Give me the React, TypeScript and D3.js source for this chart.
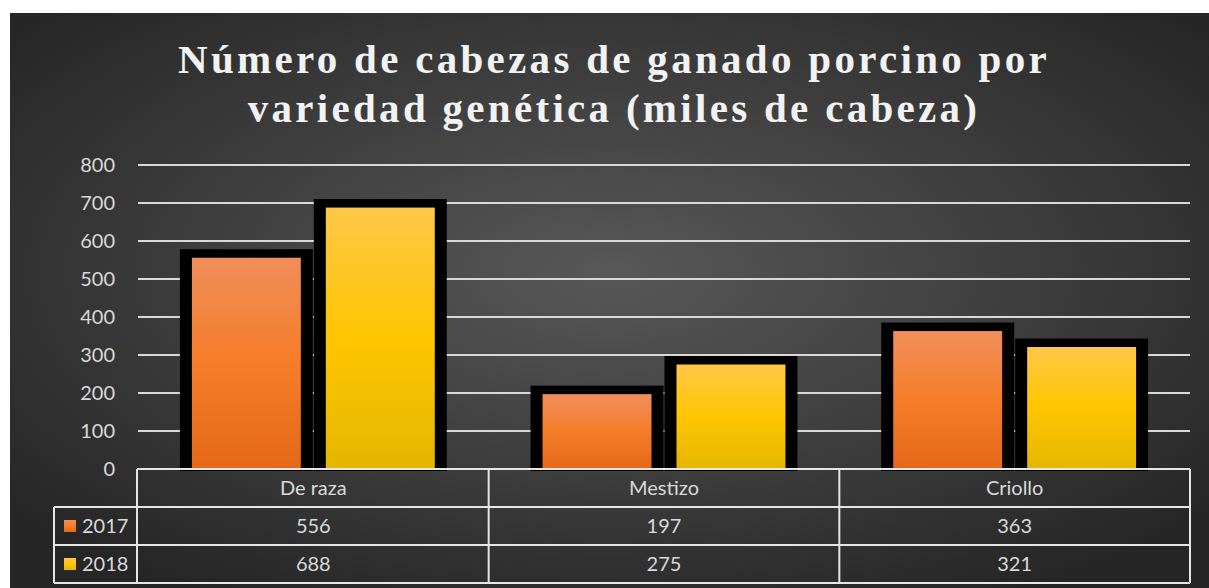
import React from "react";
import * as d3 from "d3";

const categories = ["De raza", "Mestizo", "Criollo"];
const seriesNames = ["2017", "2018"];
const values2017 = [556, 197, 363];
const values2018 = [688, 275, 321];
const yTicks = [0, 100, 200, 300, 400, 500, 600, 700, 800];
const titleLines = ["Número de cabezas de ganado porcino por", "variedad genética (miles de cabeza)"];

const W = 1209, H = 588;
const left = 138, right = 1190, top = 165, bottom = 469;

export default function App() {
  const x = d3.scaleBand().domain(categories).range([left, right]).padding(0);
  const xs = d3.scaleBand().domain(seriesNames).range([0, x.bandwidth()]).paddingInner(0).paddingOuter(0.309);
  const y = d3.scaleLinear().domain([0, 800]).range([bottom, top]);
  const series = [values2017, values2018];
  const grads = ["gOrange", "gYellow"];
  const font = "Lato, 'Open Sans', sans-serif";
  const txt = "#d9d9d9";
  const rowH = [469, 507, 545, 583];
  return (
    <svg width={W} height={H} style={{ position: "absolute", left: 0, top: 0 }}>
      <defs>
        <radialGradient id="bg" cx="50%" cy="45%" r="65%">
          <stop offset="0%" stopColor="#585858" />
          <stop offset="100%" stopColor="#262626" />
        </radialGradient>
        <linearGradient id="gOrange" x1="0" y1="0" x2="0" y2="1">
          <stop offset="0%" stopColor="#f18e5b" />
          <stop offset="50%" stopColor="#f57d28" />
          <stop offset="100%" stopColor="#e56818" />
        </linearGradient>
        <linearGradient id="gYellow" x1="0" y1="0" x2="0" y2="1">
          <stop offset="0%" stopColor="#ffc748" />
          <stop offset="50%" stopColor="#ffc600" />
          <stop offset="100%" stopColor="#e5b600" />
        </linearGradient>
      </defs>
      <rect x={0} y={0} width={W} height={H} fill="#ffffff" />
      <rect x={10} y={13} width={W - 10} height={H - 13} fill="url(#bg)" />
      {titleLines.map((t, i) => (
        <text key={i} x={614} y={73 + i * 49} textAnchor="middle" fill="#f2f2f2"
          fontFamily="'Liberation Serif', 'Times New Roman', serif" fontWeight="bold"
          fontSize={41} letterSpacing={3.3}>{t}</text>
      ))}
      {yTicks.map((t) => (
        <g key={t}>
          <line x1={left} x2={right} y1={y(t)} y2={y(t)} stroke="#d9d9d9" strokeWidth={2} />
          <text x={115} y={y(t) + 7} textAnchor="end" fill={txt} fontFamily={font} fontSize={20}>{t}</text>
        </g>
      ))}
      {categories.map((c, ci) => (
        <g key={c}>
          {seriesNames.map((s, si) => {
            const v = series[si][ci];
            const x0 = (x(c) as number) + (xs(s) as number);
            const w = xs.bandwidth();
            const yt = y(v);
            return (
              <g key={s}>
                <rect x={x0 + 0.5} y={yt - 8.5} width={w - 1} height={bottom + 2 - (yt - 8.5)} fill="#000" />
                <rect x={x0 + 12.5} y={yt} width={w - 25} height={bottom - yt} fill={`url(#${grads[si]})`} />
              </g>
            );
          })}
        </g>
      ))}
      {/* data table */}
      <g stroke="#e6e6e6" strokeWidth={2} fill="none">
        <line x1={left - 1} x2={right} y1={rowH[0]} y2={rowH[0]} />
        <line x1={54} x2={right} y1={rowH[1]} y2={rowH[1]} />
        <line x1={54} x2={right} y1={rowH[2]} y2={rowH[2]} />
        <line x1={54} x2={right} y1={rowH[3]} y2={rowH[3]} />
        <line x1={54} x2={54} y1={rowH[1]} y2={rowH[3]} />
        <line x1={left - 1} x2={left - 1} y1={rowH[0]} y2={rowH[3]} />
        {categories.map((c) => (
          <line key={c} x1={(x(c) as number) + x.bandwidth()} x2={(x(c) as number) + x.bandwidth()} y1={rowH[0]} y2={rowH[3]} />
        ))}
      </g>
      {categories.map((c, ci) => {
        const cx = (x(c) as number) + x.bandwidth() / 2;
        return (
          <g key={c} fill={txt} fontFamily={font} fontSize={20} textAnchor="middle">
            <text x={cx} y={rowH[0] + 26}>{c}</text>
            <text x={cx} y={rowH[1] + 26}>{values2017[ci]}</text>
            <text x={cx} y={rowH[2] + 26}>{values2018[ci]}</text>
          </g>
        );
      })}
      {seriesNames.map((s, si) => (
        <g key={s}>
          <rect x={64} y={rowH[1 + si] + 13} width={12} height={12} fill={`url(#${grads[si]})`} />
          <text x={82} y={rowH[1 + si] + 26} fill={txt} fontFamily={font} fontSize={20}>{s}</text>
        </g>
      ))}
    </svg>
  );
}
